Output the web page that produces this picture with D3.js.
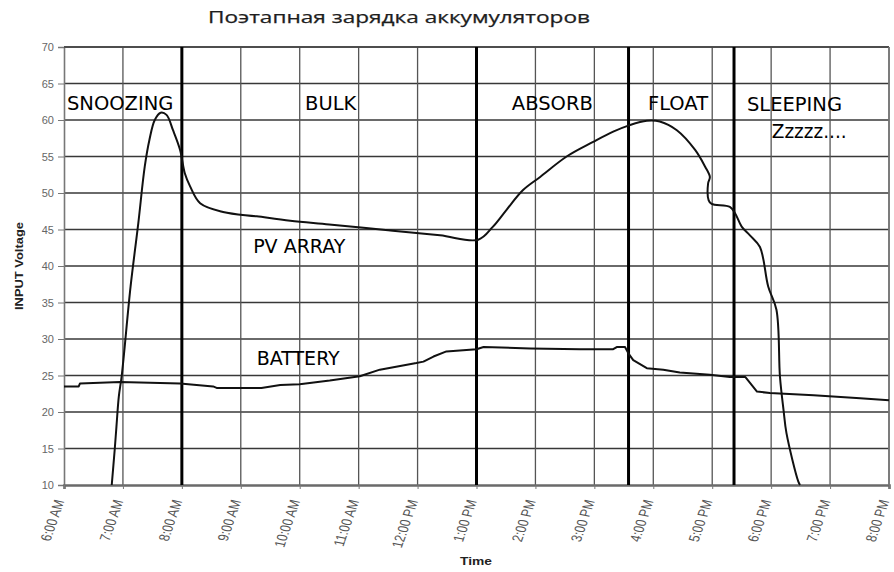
<!DOCTYPE html>
<html>
<head>
<meta charset="utf-8">
<script src="https://cdn.jsdelivr.net/npm/d3@7"></script>
<style>
  html, body { margin: 0; padding: 0; background: #fff; }
  svg { display: block; }
</style>
</head>
<body>
<svg id="chart" width="894" height="572"></svg>
<script>
// ---- Data ---------------------------------------------------------------
const chartTitle = "Поэтапная зарядка аккумуляторов";
const yAxisTitle = "INPUT Voltage";
const xAxisTitle = "Time";

// Hour-of-day tick values and their labels
const hourTicks = [6, 7, 8, 9, 10, 11, 12, 13, 14, 15, 16, 17, 18, 19, 20];
const hourLabels = ["6:00 AM", "7:00 AM", "8:00 AM", "9:00 AM", "10:00 AM", "11:00 AM",
  "12:00 PM", "1:00 PM", "2:00 PM", "3:00 PM", "4:00 PM", "5:00 PM", "6:00 PM",
  "7:00 PM", "8:00 PM"];
const voltTicks = [10, 15, 20, 25, 30, 35, 40, 45, 50, 55, 60, 65, 70];

// Charging stage boundaries (hour of day)
const stageBoundaries = [8.0, 13.0, 15.58, 17.37];
const stageNames = ["SNOOZING", "BULK", "ABSORB", "FLOAT", "SLEEPING"];
const sleepNote = "Zzzzz....";
const seriesNames = ["PV ARRAY", "BATTERY"];

// PV array voltage: hour of day, volts
const pvHours = [6.81, 6.86, 6.89, 6.93, 6.98, 7.13, 7.26, 7.37, 7.45, 7.54, 7.64, 7.74,
  7.85, 7.97, 8.05, 8.14, 8.31, 8.70, 9.27, 9.84, 10.5, 11.5, 12.38, 13.03,
  13.28, 13.51, 13.79, 14.08, 14.53, 14.98, 15.32, 15.60, 15.89, 16.11, 16.40, 16.71,
  16.88, 16.96, 16.93, 16.94, 16.99, 17.30, 17.39, 17.50, 17.64, 17.81, 17.95, 18.09,
  18.15, 18.21, 18.26, 18.46, 18.49];
const pvVolts = [10.0, 14.8, 18.0, 22.1, 25.0, 37.2, 45.8, 53.6, 57.3, 60.0, 61.0, 60.7,
  58.6, 55.9, 52.7, 50.9, 48.6, 47.4, 46.8, 46.2, 45.7, 44.9, 44.2, 43.6,
  45.4, 47.7, 50.4, 52.2, 55.0, 57.0, 58.4, 59.3, 59.9, 59.8, 58.6, 55.9,
  53.6, 52.2, 51.3, 49.0, 48.5, 48.1, 47.2, 45.4, 44.2, 42.6, 37.2, 34.0,
  24.8, 20.3, 17.1, 10.5, 10.0];

// Battery voltage: hour of day, volts
const batHours = [6.0, 6.25, 6.27, 6.95, 7.97, 8.53, 8.59, 9.35, 9.67, 10.0, 10.51, 11.02,
  11.36, 11.98, 12.1, 12.27, 12.49, 13.0, 13.12, 13.91, 14.76, 15.32, 15.38, 15.52,
  15.58, 15.66, 15.89, 16.17, 16.45, 16.96, 17.30, 17.56, 17.76, 17.98, 18.72, 19.51, 20.0];
const batVolts = [23.5, 23.5, 23.9, 24.1, 23.9, 23.5, 23.3, 23.3, 23.7, 23.8, 24.3, 24.9,
  25.8, 26.7, 26.9, 27.6, 28.3, 28.6, 28.9, 28.7, 28.6, 28.6, 28.9, 28.9,
  28.0, 27.1, 26.0, 25.8, 25.4, 25.1, 24.8, 24.8, 22.8, 22.6, 22.3, 21.9, 21.6];

// ---- Drawing ------------------------------------------------------------
const svg = d3.select("#chart");
const plotLeft = 64, plotRight = 889, plotTop = 47, plotBottom = 485;

const x = d3.scaleLinear().domain([6, 20]).range([plotLeft, plotRight]);
const y = d3.scaleLinear().domain([10, 70]).range([plotBottom, plotTop]);

svg.append("rect").attr("width", 894).attr("height", 572).attr("fill", "#fff");

// Title
svg.append("text")
  .attr("x", 399).attr("y", 23)
  .attr("text-anchor", "middle")
  .attr("font-family", "'Open Sans', sans-serif")
  .attr("font-size", 16)
  .attr("fill", "#1e1e1e")
  .attr("stroke", "#1e1e1e").attr("stroke-width", 0.25)
  .attr("textLength", 382)
  .attr("lengthAdjust", "spacingAndGlyphs")
  .text(chartTitle);

// Grid
const grid = svg.append("g");
grid.selectAll("line.h")
  .data(voltTicks.filter(v => v > 10))
  .join("line")
  .attr("x1", plotLeft).attr("x2", plotRight)
  .attr("y1", d => y(d)).attr("y2", d => y(d))
  .attr("stroke", "#383838").attr("stroke-width", 1.7);
grid.selectAll("line.v")
  .data(hourTicks.filter(h => h > 6))
  .join("line")
  .attr("x1", d => x(d)).attr("x2", d => x(d))
  .attr("y1", y(10)).attr("y2", y(70))
  .attr("stroke", "#555").attr("stroke-width", 1.3);

// Y axis
const yAxis = svg.append("g")
  .attr("transform", `translate(${plotLeft},0)`)
  .call(d3.axisLeft(y).tickValues(voltTicks).tickSize(6).tickPadding(4));
yAxis.select(".domain").attr("stroke", "#777").attr("stroke-width", 1.6);
yAxis.selectAll(".tick line").attr("stroke", "#777");
yAxis.selectAll(".tick text")
  .attr("font-family", "'Liberation Sans', Arial, sans-serif")
  .attr("font-size", 11).attr("fill", "#666");

// X axis
const xAxis = svg.append("g")
  .attr("transform", `translate(0,${plotBottom})`)
  .call(d3.axisBottom(x).tickValues(hourTicks).tickSize(4)
    .tickFormat((d, i) => hourLabels[i]));
xAxis.select(".domain").attr("stroke", "#6a6a6a").attr("stroke-width", 2.6);
xAxis.selectAll(".tick line").attr("stroke", "#777");
xAxis.selectAll(".tick text")
  .attr("x", 0).attr("y", 0).attr("dy", "0.35em")
  .attr("text-anchor", "end")
  .attr("transform", "translate(-5,15) scale(1.3,1) rotate(-75)")
  .attr("font-family", "'Liberation Sans', Arial, sans-serif")
  .attr("font-size", 11.5).attr("fill", "#555");

// Axis titles
svg.append("text")
  .attr("transform", "translate(23,266) rotate(-90)")
  .attr("text-anchor", "middle")
  .attr("font-family", "'Liberation Sans', Arial, sans-serif")
  .attr("font-weight", "bold").attr("font-size", 10)
  .attr("fill", "#222")
  .attr("textLength", 88).attr("lengthAdjust", "spacingAndGlyphs")
  .text(yAxisTitle);
svg.append("text")
  .attr("x", 476).attr("y", 565)
  .attr("text-anchor", "middle")
  .attr("font-family", "'Liberation Sans', Arial, sans-serif")
  .attr("font-weight", "bold").attr("font-size", 11)
  .attr("fill", "#222")
  .attr("textLength", 32).attr("lengthAdjust", "spacingAndGlyphs")
  .text(xAxisTitle);

// Top and right frame
svg.append("line").attr("x1", plotLeft).attr("x2", plotRight).attr("y1", y(70)).attr("y2", y(70))
  .attr("stroke", "#444").attr("stroke-width", 1.6);
svg.append("line").attr("x1", x(20)).attr("x2", x(20)).attr("y1", y(70)).attr("y2", y(10))
  .attr("stroke", "#777").attr("stroke-width", 1.6);

// Stage boundaries
svg.append("g").selectAll("line")
  .data(stageBoundaries)
  .join("line")
  .attr("x1", d => x(d)).attr("x2", d => x(d))
  .attr("y1", y(10)).attr("y2", y(70))
  .attr("stroke", "#000").attr("stroke-width", 3);

// Series lines
const pvData = pvHours.map((h, i) => [h, pvVolts[i]]);
const batData = batHours.map((h, i) => [h, batVolts[i]]);

svg.append("path")
  .datum(batData)
  .attr("fill", "none").attr("stroke", "#111").attr("stroke-width", 2)
  .attr("stroke-linejoin", "round")
  .attr("d", d3.line().x(d => x(d[0])).y(d => y(d[1])));

svg.append("path")
  .datum(pvData)
  .attr("fill", "none").attr("stroke", "#111").attr("stroke-width", 2)
  .attr("stroke-linejoin", "round")
  .attr("d", d3.line().curve(d3.curveCatmullRom.alpha(0.5)).x(d => x(d[0])).y(d => y(d[1])));

// Stage and series labels, anchored in hour/volt space
const labelFont = "'DejaVu Sans', Verdana, sans-serif";
const stageAnchors = [[6.05, 61.4], [10.09, 61.4], [13.60, 61.4], [15.91, 61.4], [17.59, 61.2]];
svg.append("g").selectAll("text")
  .data(stageNames)
  .join("text")
  .attr("x", (d, i) => x(stageAnchors[i][0]))
  .attr("y", (d, i) => y(stageAnchors[i][1]))
  .attr("font-family", labelFont).attr("font-size", 19.5).attr("fill", "#000")
  .text(d => d);
svg.append("text")
  .attr("x", x(18.01)).attr("y", y(57.5))
  .attr("font-family", labelFont).attr("font-size", 19.5).attr("fill", "#000")
  .attr("textLength", 75).attr("lengthAdjust", "spacingAndGlyphs")
  .text(sleepNote);

const seriesAnchors = [[9.21, 41.8], [9.27, 26.4]];
svg.append("g").selectAll("text")
  .data(seriesNames)
  .join("text")
  .attr("x", (d, i) => x(seriesAnchors[i][0]))
  .attr("y", (d, i) => y(seriesAnchors[i][1]))
  .attr("font-family", labelFont).attr("font-size", 19).attr("fill", "#000")
  .text(d => d);
</script>
</body>
</html>
